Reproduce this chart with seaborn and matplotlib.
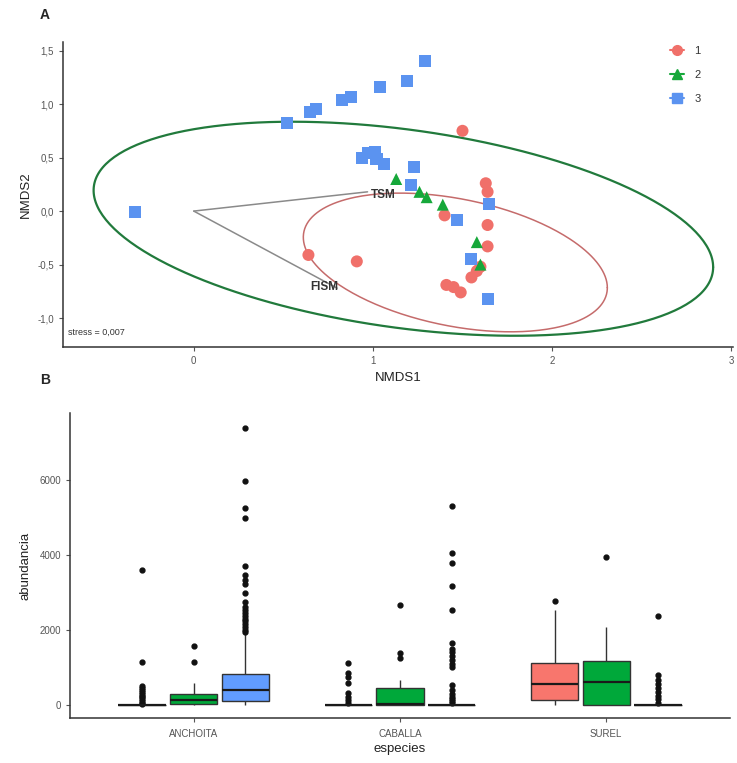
import numpy as np
import pandas as pd
import matplotlib
matplotlib.use("Agg")
import matplotlib.pyplot as plt
import seaborn as sns
from matplotlib.lines import Line2D

# ---------------- Panel A data (NMDS scores) ----------------
g1_x = [1.50, 1.63, 1.64, 1.64, 1.64, 1.40, 1.60, 1.58, 1.55, 1.41, 1.45, 1.49, 0.64, 0.91]
g1_y = [0.75, 0.26, 0.18, -0.13, -0.33, -0.04, -0.52, -0.56, -0.62, -0.69, -0.71, -0.76, -0.41, -0.47]
g2_x = [1.13, 1.26, 1.30, 1.39, 1.58, 1.60]
g2_y = [0.30, 0.18, 0.13, 0.06, -0.29, -0.50]
g3_x = [1.29, 1.19, 1.04, 0.88, 0.83, 0.68, 0.65, 0.52, 0.97, 1.01, 0.94, 1.06, 1.02,
        1.23, 1.21, 1.47, 1.65, 1.55, 1.64, -0.33]
g3_y = [1.40, 1.22, 1.16, 1.07, 1.04, 0.95, 0.93, 0.82, 0.54, 0.55, 0.50, 0.44, 0.49,
        0.41, 0.24, -0.08, 0.07, -0.45, -0.82, -0.01]

# ellipses: centre and shape matrix (sxx, syy, sxy)
ell_green_center = (1.17, -0.165)
ell_green_shape = (2.99, 1.00, -0.62)
ell_red_center = (1.46, -0.48)
ell_red_shape = (0.72, 0.42, -0.20)

# environmental vectors
vec_names = ["TSM", "FISM"]
vec_x = [0.97, 0.80]
vec_y = [0.18, -0.72]
vec_lab_x = [1.06, 0.73]
vec_lab_y = [0.15, -0.71]

group_labels = ["1", "2", "3"]
pal_pts = {"1": "#F0706A", "2": "#16A83A", "3": "#5B93F0"}

# ---------------- Panel B data (box summaries) ----------------
species = ["ANCHOITA", "CABALLA", "SUREL"]
box_lo = [[0, 0, 0], [0, 0, 0], [0, 0, 0]]
box_q1 = [[0, 20, 100], [0, 0, 0], [130, 0, 0]]
box_med = [[0, 130, 400], [0, 20, 0], [560, 620, 0]]
box_q3 = [[0, 290, 830], [0, 450, 0], [1120, 1180, 0]]
box_hi = [[0, 590, 1900], [0, 670, 0], [2530, 2080, 0]]
box_out = [
    [[30, 60, 100, 150, 200, 250, 300, 350, 400, 450, 500, 1150, 3600],
     [1150, 1570],
     [1950, 2000, 2080, 2150, 2230, 2300, 2380, 2450, 2530, 2610, 2740, 2980,
      3230, 3330, 3470, 3710, 4990, 5250, 5970, 7390]],
    [[50, 130, 210, 320, 590, 750, 850, 1120],
     [1250, 1390, 2670],
     [50, 100, 150, 200, 300, 400, 530, 1010, 1100, 1200, 1300, 1400, 1500,
      1650, 2530, 3170, 3790, 4050, 5300]],
    [[2770],
     [3950],
     [50, 150, 250, 350, 450, 550, 670, 800, 2370]],
]
pal_box = {"1": "#F8766D", "2": "#00A83A", "3": "#619CFF"}


def expand(lo, q1, med, q3, hi, outs):
    k = len(outs)
    m = k + 2
    return [lo] + [q1] * m + [med] * m + [q3] * m + [q3] * (m - k - 1) + [hi] + list(outs)


rows = []
for i, sp in enumerate(species):
    for j, g in enumerate(group_labels):
        vals = expand(box_lo[i][j], box_q1[i][j], box_med[i][j], box_q3[i][j],
                      box_hi[i][j], box_out[i][j])
        for v in vals:
            rows.append((sp, g, v))
df_box = pd.DataFrame(rows, columns=["especies", "grupo", "abundancia"])

df_pts = pd.DataFrame({
    "NMDS1": g1_x + g2_x + g3_x,
    "NMDS2": g1_y + g2_y + g3_y,
    "grupo": ["1"] * len(g1_x) + ["2"] * len(g2_x) + ["3"] * len(g3_x),
})

sns.set_style("ticks")
plt.rcParams["font.family"] = ["Liberation Sans", "DejaVu Sans"]

fig = plt.figure(figsize=(7.37, 7.63), dpi=100)
axA = fig.add_axes([63 / 737, 1 - 347 / 763, 670 / 737, 305 / 763])
axB = fig.add_axes([70 / 737, 1 - 718 / 763, 660 / 737, 305 / 763])

tick_col = "#555555"
spine_col = "#333333"

# ---------------- Panel A ----------------
def draw_ellipse(ax, center, shape, color, lw):
    sxx, syy, sxy = shape
    S = np.array([[sxx, sxy], [sxy, syy]])
    L = np.linalg.cholesky(S)
    t = np.linspace(0, 2 * np.pi, 300)
    pts = L @ np.vstack([np.cos(t), np.sin(t)])
    ax.plot(center[0] + pts[0], center[1] + pts[1], color=color, lw=lw, zorder=2)

draw_ellipse(axA, ell_red_center, ell_red_shape, "#C56B6B", 1.1)
draw_ellipse(axA, ell_green_center, ell_green_shape, "#217A3C", 1.6)

for name, vx, vy, lx, ly in zip(vec_names, vec_x, vec_y, vec_lab_x, vec_lab_y):
    axA.plot([0, vx], [0, vy], color="#8a8a8a", lw=1.1, zorder=1)
    axA.text(lx, ly, name, fontsize=8.5, color="#333333", fontweight="bold",
             ha="center", va="center", zorder=5)

sns.scatterplot(data=df_pts, x="NMDS1", y="NMDS2", hue="grupo", style="grupo",
                hue_order=group_labels, style_order=group_labels,
                markers={"1": "o", "2": "^", "3": "s"}, palette=pal_pts,
                s=75, linewidth=0, legend=False, ax=axA, zorder=4)

axA.set_xlim(-0.73, 3.01)
axA.set_ylim(-1.27, 1.58)
axA.set_xticks([0, 1, 2, 3])
axA.set_xticklabels(["0", "1", "2", "3"])
axA.set_yticks([-1.0, -0.5, 0.0, 0.5, 1.0, 1.5])
axA.set_yticklabels(["-1,0", "-0,5", "0,0", "0,5", "1,0", "1,5"])
axA.set_xlabel("NMDS1", fontsize=9.5, color="#222222", labelpad=4)
axA.set_ylabel("NMDS2", fontsize=9.5, color="#222222", labelpad=4)
axA.text(0.007, 0.035, "stress = 0,007", transform=axA.transAxes, fontsize=6.5,
         color="#333333", ha="left", va="bottom")

handles = [Line2D([], [], color=pal_pts[g], marker=mk, markersize=7, lw=1.5)
           for g, mk in zip(group_labels, ["o", "^", "s"])]
fig.legend(handles, group_labels, loc="upper left", bbox_to_anchor=(660 / 737, 1 - 36 / 763),
           frameon=False, fontsize=8, handlelength=1.3, handletextpad=0.9,
           labelspacing=1.25, labelcolor="#333333")

# ---------------- Panel B ----------------
sns.boxplot(data=df_box, x="especies", y="abundancia", hue="grupo",
            order=species, hue_order=group_labels, palette=pal_box,
            width=0.75, gap=0.08, saturation=1, linecolor="#333333", linewidth=1,
            fliersize=3.5, whis=1.5,
            flierprops={"marker": "o", "markerfacecolor": "#111111",
                        "markeredgecolor": "#111111"},
            medianprops={"color": "#1a1a1a", "linewidth": 1.6},
            capprops={"linewidth": 0},
            legend=False, ax=axB)
axB.set_xlim(-0.6, 2.6)
axB.set_ylim(-347, 7787)
axB.set_yticks([0, 2000, 4000, 6000])
axB.set_xlabel("especies", fontsize=9.5, color="#222222", labelpad=3)
axB.set_ylabel("abundancia", fontsize=9.5, color="#222222", labelpad=6)

for ax in (axA, axB):
    sns.despine(ax=ax)
    for sp in ("left", "bottom"):
        ax.spines[sp].set_color(spine_col)
        ax.spines[sp].set_linewidth(1.1)
    ax.tick_params(axis="both", labelsize=7, colors=tick_col, length=3, width=0.8,
                   labelcolor=tick_col)
    ax.grid(False)
axB.tick_params(axis="x", pad=5)

fig.text(40 / 737, 1 - 15 / 763, "A", fontsize=10, fontweight="bold", ha="left", va="center")
fig.text(40 / 737, 1 - 380 / 763, "B", fontsize=10, fontweight="bold", ha="left", va="center")

fig.savefig("out.png", dpi=100)
